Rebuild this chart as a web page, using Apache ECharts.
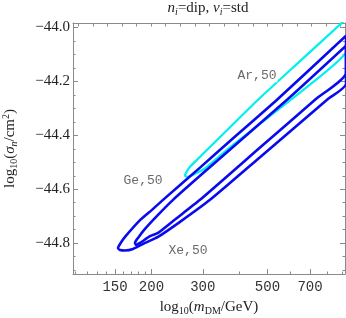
<!DOCTYPE html>
<html><head><meta charset="utf-8">
<script src="https://cdn.jsdelivr.net/npm/echarts@6/dist/echarts.min.js"></script>
<style>html,body{margin:0;padding:0;background:#fff}#c{width:346px;height:318px}</style>
</head><body><div id="c"></div>
<script>
// axis ranges (log10 units)
const XMIN = 2.032, XMAX = 2.965;
const YMIN = -44.914, YMAX = -43.984;

// tick marks
const xTickMasses = [150, 200, 300, 500, 700];
const xTickLabels = ['150', '200', '300', '500', '700'];
const xMinorMasses = [110, 120, 130, 140, 160, 170, 180, 190, 400, 600, 800, 900];
const xTopTicks = [2.05, 2.1, 2.15, 2.2, 2.25, 2.3, 2.35, 2.4, 2.45, 2.5, 2.55, 2.6, 2.65, 2.7, 2.75, 2.8, 2.85, 2.9, 2.95];
const yTicks = [-44.8, -44.6, -44.4, -44.2, -44.0];
const yMinorTicks = [-44.9, -44.85, -44.75, -44.7, -44.65, -44.55, -44.5, -44.45, -44.35, -44.3, -44.25, -44.15, -44.1, -44.05];

// contours: [log10(m/GeV), log10(sigma/cm^2)]
const blueOuter = [
  [2.9686, -44.0308], [2.7318, -44.2683], [2.5706, -44.4212], [2.4677, -44.5199],
  [2.3408, -44.6393], [2.3030, -44.6764], [2.2619, -44.7143], [2.2104, -44.7766],
  [2.1933, -44.8026], [2.1864, -44.8174], [2.1933, -44.8248], [2.2104, -44.8267],
  [2.2378, -44.8211], [2.2790, -44.7989], [2.3236, -44.7766], [2.3991, -44.7210],
  [2.5020, -44.6393], [2.6735, -44.4813], [2.9034, -44.2683], [2.9686, -44.2089],
  [2.9686, -44.0308]
];
const blueInner = [
  [2.9686, -44.0679], [2.7662, -44.2683], [2.4677, -44.5503], [2.3751, -44.6393],
  [2.3236, -44.6950], [2.2790, -44.7469], [2.2550, -44.7803], [2.2447, -44.7989],
  [2.2481, -44.8063], [2.2619, -44.7989], [2.2962, -44.7737], [2.3236, -44.7618],
  [2.3819, -44.7121], [2.4677, -44.6393], [2.6735, -44.4456], [2.8622, -44.2683],
  [2.9686, -44.1681], [2.9686, -44.0679]
];
const arContour = [
  [2.9823, -43.9547], [2.9549, -43.9826], [2.8107, -44.1253], [2.6667, -44.2683],
  [2.5706, -44.3703], [2.4677, -44.4798], [2.4334, -44.5169], [2.4196, -44.5392],
  [2.4162, -44.5503], [2.4265, -44.5540], [2.4505, -44.5429], [2.4848, -44.5225],
  [2.5706, -44.4445], [2.7790, -44.2683], [2.9686, -44.0939], [2.9823, -43.9547]
];

// contour labels
const labelTexts = ['Ar,50', 'Ge,50', 'Xe,50'];
const labelX = [2.6632, 2.2722, 2.4265];
const labelY = [-44.1792, -44.5688, -44.8286];

const frame = '#8a8a8a';
const serif = '"Liberation Serif", "DejaVu Serif", serif';
const mono = '"Liberation Mono", "DejaVu Sans Mono", monospace';
const richBase = {
  a: { fontFamily: serif, fontSize: 15, color: '#222', lineHeight: 18 },
  i: { fontFamily: serif, fontSize: 15, color: '#222', fontStyle: 'italic', lineHeight: 18 },
  s: { fontFamily: serif, fontSize: 10, color: '#222', lineHeight: 9, verticalAlign: 'bottom' },
  si: { fontFamily: serif, fontSize: 10, color: '#222', fontStyle: 'italic', lineHeight: 9, verticalAlign: 'bottom' },
  p: { fontFamily: serif, fontSize: 10, color: '#222', lineHeight: 9, verticalAlign: 'top' }
};
const titleRich = {
  a: { fontFamily: serif, fontSize: 15, color: '#222', fontWeight: 'normal', lineHeight: 17 },
  i: { fontFamily: serif, fontSize: 15, color: '#222', fontWeight: 'normal', fontStyle: 'italic', lineHeight: 17 },
  si: { fontFamily: serif, fontSize: 10, color: '#222', fontWeight: 'normal', fontStyle: 'italic', lineHeight: 8, verticalAlign: 'bottom' }
};

function xAx(extra) {
  return Object.assign({
    type: 'value', min: XMIN, max: XMAX, splitLine: { show: false },
    axisLine: { show: false }, axisLabel: { show: false },
    axisTick: { show: false }
  }, extra);
}
function yAx(extra) {
  return Object.assign({
    type: 'value', min: YMIN, max: YMAX, splitLine: { show: false },
    axisLine: { show: false }, axisLabel: { show: false },
    axisTick: { show: false }
  }, extra);
}

const chart = echarts.init(document.getElementById('c'), null, { renderer: 'canvas' });
chart.setOption({
  animation: false,
  backgroundColor: '#fff',
  title: {
    text: '{i|n}{si|i}{a|=dip, }{i|ν}{si|i}{a|=std}',
    left: 208, top: 0, textAlign: 'center', padding: [0, 0, 0, 0],
    textStyle: { fontWeight: 'normal', rich: titleRich }
  },
  grid: { left: 73, right: 1, top: 23, bottom: 44, containLabel: false, outerBoundsMode: 'none' },
  xAxis: [
    xAx({
      position: 'bottom',
      axisLine: { show: true, lineStyle: { color: frame, width: 1 } },
      axisTick: { show: true, inside: true, length: 5, customValues: xTickMasses.map(Math.log10), lineStyle: { color: frame } },
      axisLabel: {
        show: true, customValues: xTickMasses.map(Math.log10), margin: 6,
        fontFamily: mono, fontSize: 14, color: '#333',
        formatter: function (v) {
          const k = xTickMasses.findIndex(m => Math.abs(Math.log10(m) - v) < 1e-6);
          return k >= 0 ? xTickLabels[k] : '';
        }
      },
      name: '{a|log}{s|10}{a|(}{i|m}{s|DM}{a|/GeV)}',
      nameLocation: 'middle', nameGap: 24,
      nameTextStyle: { rich: richBase }
    }),
    xAx({
      position: 'bottom',
      axisTick: { show: true, inside: true, length: 2.5, customValues: xMinorMasses.map(Math.log10), lineStyle: { color: frame } }
    }),
    xAx({
      position: 'top',
      axisLine: { show: true, lineStyle: { color: frame, width: 1 } },
      axisTick: { show: true, inside: true, length: 3.5, customValues: xTopTicks, lineStyle: { color: frame } }
    })
  ],
  yAxis: [
    yAx({
      position: 'left',
      axisLine: { show: true, lineStyle: { color: frame, width: 1 } },
      axisTick: { show: true, inside: true, length: 5, customValues: yTicks, lineStyle: { color: frame } },
      axisLabel: {
        show: true, customValues: yTicks, margin: 3,
        fontFamily: serif, fontSize: 15, color: '#222',
        formatter: v => (v < 0 ? '\u2212' : '') + Math.abs(v).toFixed(1)
      },
      name: '{a|log}{s|10}{a|(}{i|σ}{si|n}{a|/cm}{p|2}{a|)}',
      nameLocation: 'middle', nameRotate: 90, nameGap: 54,
      nameTextStyle: { rich: richBase }
    }),
    yAx({
      position: 'left',
      axisTick: { show: true, inside: true, length: 2.5, customValues: yMinorTicks, lineStyle: { color: frame } }
    }),
    yAx({
      position: 'right',
      axisLine: { show: true, lineStyle: { color: frame, width: 1 } },
      axisTick: { show: true, inside: true, length: 5, customValues: yTicks, lineStyle: { color: frame } }
    }),
    yAx({
      position: 'right',
      axisTick: { show: true, inside: true, length: 2.5, customValues: yMinorTicks, lineStyle: { color: frame } }
    })
  ],
  series: [
    {
      type: 'line', data: arContour, showSymbol: false, smooth: 0.2, clip: true,
      lineStyle: { color: '#00f0f0', width: 2.2 }, z: 2
    },
    {
      type: 'line', data: blueOuter, showSymbol: false, smooth: 0.2, clip: true,
      lineStyle: { color: '#0a0aee', width: 2.6 }, z: 3
    },
    {
      type: 'line', data: blueInner, showSymbol: false, smooth: 0.2, clip: true,
      lineStyle: { color: '#0a0aee', width: 2.6 }, z: 3
    },
    {
      type: 'scatter', symbolSize: 1, itemStyle: { color: 'rgba(0,0,0,0)' }, z: 5,
      data: labelTexts.map((t, k) => ({ name: t, value: [labelX[k], labelY[k]] })),
      label: {
        show: true, position: 'inside', formatter: '{b}',
        fontFamily: mono, fontSize: 13, color: '#444',
        backgroundColor: '#fff', padding: [0, 1]
      }
    }
  ]
});
</script></body></html>
